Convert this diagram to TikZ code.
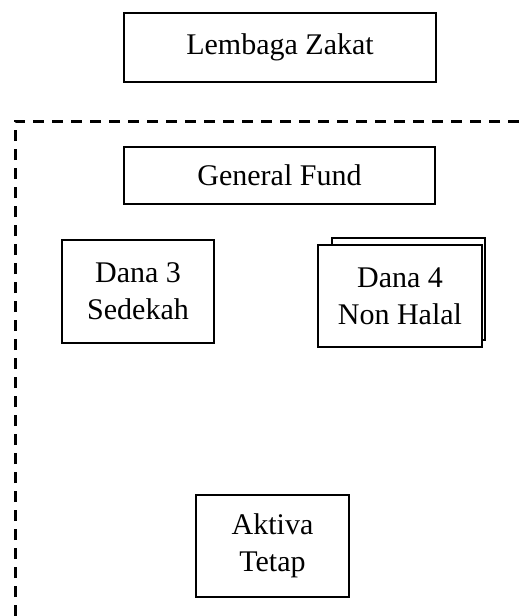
\documentclass[tikz,border=0pt]{standalone}
\usepackage{fontspec}
\setmainfont{Liberation Serif}
\begin{document}
\begin{tikzpicture}[x=1pt,y=-1pt,
  box/.style={draw=black, line width=1.4pt, fill=white, rectangle, inner sep=0pt,
    align=center, font=\fontsize{30}{37}\selectfont},
  frame/.style={draw=black, line width=3pt, dash pattern=on 11pt off 8pt}]
\useasboundingbox (0,0) rectangle (519,616);
\node[box, minimum width=312pt, minimum height=69pt] (lz) at (280,47.5) {Lembaga Zakat};
\coordinate (fbl) at (15,616);
\coordinate (ftl) at (15,121);
\coordinate (ftr) at (519,121);
\draw[frame] (fbl) -- (ftl) -- (ftr);
\node[box, minimum width=311pt, minimum height=57pt] (gf) at (279.5,175.5) {General Fund};
\node[box, minimum width=152pt, minimum height=103pt] (d3) at (138,291.5) {Dana 3\\Sedekah};
\node[box, minimum width=153pt, minimum height=102pt] (d4b) at (408.5,289) {};
\node[box, minimum width=164pt, minimum height=102pt] (d4) at (400,296) {Dana 4\\Non Halal};
\node[box, minimum width=153pt, minimum height=102pt] (at) at (272.5,546) {Aktiva\\Tetap};
\end{tikzpicture}
\end{document}
